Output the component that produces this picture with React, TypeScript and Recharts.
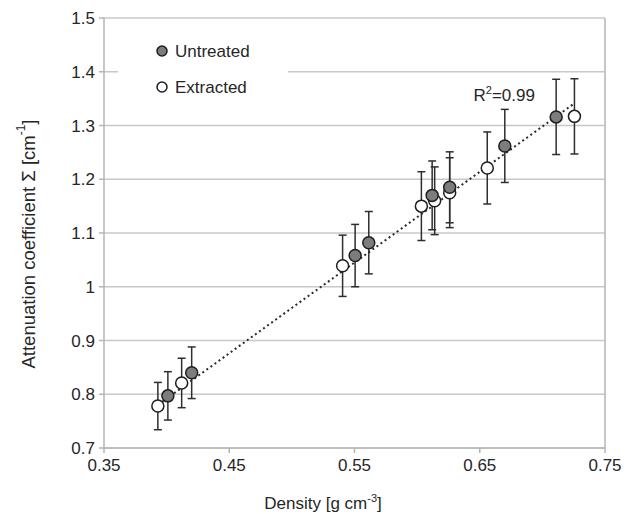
import {
  ComposedChart,
  Scatter,
  XAxis,
  YAxis,
  CartesianGrid,
  ErrorBar,
  Legend,
  ReferenceLine,
  ReferenceDot,
  Label,
} from 'recharts';

const xTicks = [0.35, 0.45, 0.55, 0.65, 0.75];
const yTicks = [0.7, 0.8, 0.9, 1, 1.1, 1.2, 1.3, 1.4, 1.5];

// Untreated samples (grey markers)
const untreatedDensity = [0.401, 0.42, 0.5505, 0.5614, 0.612, 0.626, 0.67, 0.711];
const untreatedSigma = [0.797, 0.84, 1.058, 1.082, 1.17, 1.185, 1.262, 1.316];
const untreatedErr = [0.045, 0.048, 0.058, 0.058, 0.064, 0.066, 0.068, 0.07];

// Extracted samples (white markers)
const extractedDensity = [0.393, 0.412, 0.5405, 0.6034, 0.614, 0.626, 0.656, 0.7256];
const extractedSigma = [0.778, 0.821, 1.039, 1.15, 1.16, 1.175, 1.221, 1.317];
const extractedErr = [0.044, 0.046, 0.057, 0.064, 0.063, 0.065, 0.067, 0.07];

// linear trend, end points
const trendDensity = [0.393, 0.726];
const trendSigma = [0.78, 1.342];

const zip = (xs: number[], ys: number[], es?: number[]) =>
  xs.map((x, i) => ({ x, y: ys[i], err: es ? es[i] : 0 }));

const untreated = zip(untreatedDensity, untreatedSigma, untreatedErr);
const extracted = zip(extractedDensity, extractedSigma, extractedErr);
const trend = zip(trendDensity, trendSigma);

const FONT = '"Liberation Sans", Arial, sans-serif';
const TEXT = '#262626';
const AXIS = '#b4b4b4';

const dot = (fill: string) => (p: any) =>
  <circle cx={p.cx} cy={p.cy} r={6} fill={fill} stroke="#1e1e1e" strokeWidth={1.5} />;

function LegendBox() {
  const rows = [
    { name: 'Untreated', fill: '#7c7c7c' },
    { name: 'Extracted', fill: '#ffffff' },
  ];
  return (
    <svg width={170} height={76}>
      <rect x={0} y={0} width={170} height={76} fill="#fff" />
      {rows.map((r, i) => (
        <g key={r.name}>
          <circle cx={44} cy={19 + i * 36} r={5} fill={r.fill} stroke="#1e1e1e" strokeWidth={1.5} />
          <text x={57} y={19 + i * 36} dominantBaseline="central" fontSize={17} fill={TEXT} fontFamily={FONT}>
            {r.name}
          </text>
        </g>
      ))}
    </svg>
  );
}

export default function App() {
  return (
    <div style={{ position: 'absolute', left: 0, top: 0, fontFamily: FONT }}>
      <ComposedChart width={631} height={514} margin={{ top: 18, right: 26, bottom: 36, left: 54 }}>
        <CartesianGrid vertical={false} stroke="#c8c8c8" strokeWidth={1.5} />
        <XAxis
          type="number"
          dataKey="x"
          domain={[0.35, 0.75]}
          ticks={xTicks}
          height={30}
          stroke={AXIS}
          strokeWidth={1.5}
          tickSize={5}
          tickMargin={6}
          tick={{ fill: TEXT, fontSize: 17, fontFamily: FONT }}
        >
          <Label
            content={() => (
              <text x={323} y={509} textAnchor="middle" fontSize={17} fill={TEXT} fontFamily={FONT}>
                Density [g cm<tspan dy={-7} fontSize={11}>-3</tspan><tspan dy={7}>]</tspan>
              </text>
            )}
          />
        </XAxis>
        <YAxis
          type="number"
          dataKey="y"
          domain={[0.7, 1.5]}
          ticks={yTicks}
          width={50}
          stroke={AXIS}
          strokeWidth={1.5}
          tickSize={5}
          tickMargin={4}
          tick={{ fill: TEXT, fontSize: 17, fontFamily: FONT }}
        >
          <Label
            content={() => (
              <text
                x={28}
                y={244}
                transform="rotate(-90, 28, 244)"
                textAnchor="middle"
                dominantBaseline="central"
                fontSize={18.5}
                fill={TEXT}
                fontFamily={FONT}
              >
                Attenuation coefficient Σ [cm<tspan dy={-7} fontSize={12}>-1</tspan><tspan dy={7}>]</tspan>
              </text>
            )}
          />
        </YAxis>
        <ReferenceLine x={0.75} stroke={AXIS} strokeWidth={1.5} />
        <Legend
          layout="vertical"
          align="center"
          verticalAlign="middle"
          wrapperStyle={{ left: 118, top: 32, width: 170, height: 76 }}
          content={() => <LegendBox />}
        />
        <Scatter
          name="trend"
          data={trend}
          legendType="none"
          line={{ stroke: '#2a2a2a', strokeWidth: 2, strokeDasharray: '2 3' }}
          shape={() => null}
          isAnimationActive={false}
        />
        <Scatter name="Extracted" data={extracted} shape={dot('#ffffff')} isAnimationActive={false}>
          <ErrorBar dataKey="err" direction="y" width={4} stroke="#2e2e2e" strokeWidth={1.5} isAnimationActive={false} />
        </Scatter>
        <Scatter name="Untreated" data={untreated} shape={dot('#7c7c7c')} isAnimationActive={false}>
          <ErrorBar dataKey="err" direction="y" width={4} stroke="#2e2e2e" strokeWidth={1.5} isAnimationActive={false} />
        </Scatter>
        <ReferenceDot
          x={0.645}
          y={1.3456}
          r={0}
          ifOverflow="visible"
          label={(props: any) => {
            const vb = props.viewBox || {};
            return (
              <text x={vb.x} y={vb.y} fontSize={17} fill={TEXT} fontFamily={FONT}>
                R<tspan dy={-7} fontSize={11}>2</tspan><tspan dy={7}>=0.99</tspan>
              </text>
            );
          }}
        />
      </ComposedChart>
    </div>
  );
}
